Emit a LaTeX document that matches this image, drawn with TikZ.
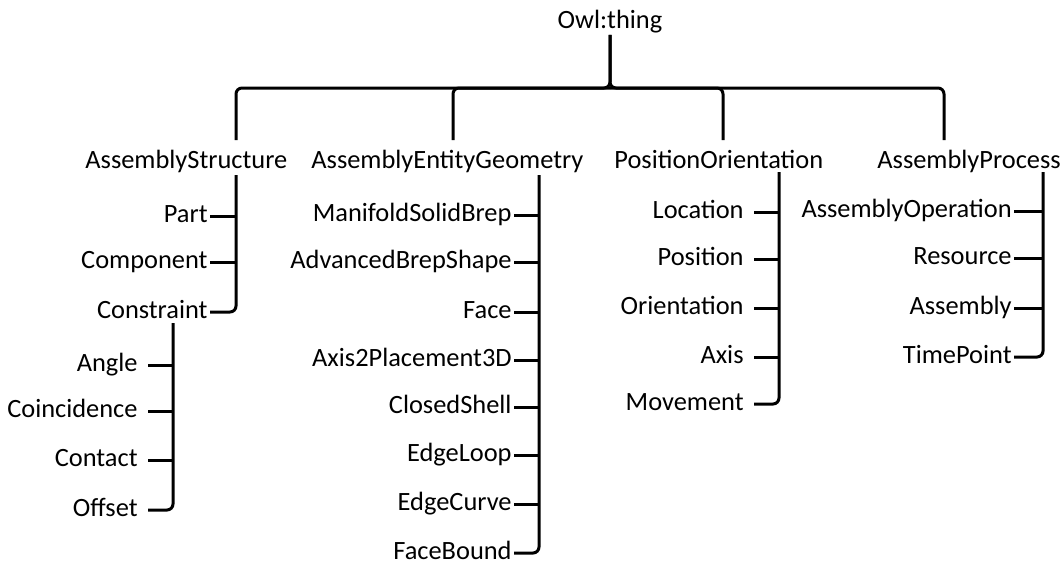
\documentclass[tikz,border=0pt]{standalone}
\usepackage{fontspec}
\setmainfont{Carlito}
\usepackage{tikz}
\newcommand{\clsfont}{\fontsize{13.2}{15}\selectfont}
\tikzset{
  classnode/.style = {inner sep=0pt, font=\clsfont, text height=9.2pt, text depth=3.2pt},
  topcls/.style = {classnode},% classe du haut
  subcls/.style = {classnode, anchor=east, inner xsep=1pt},% sous-classe, trait colle
  subgap/.style = {classnode, anchor=east, inner xsep=5pt},% sous-classe, trait decale
  isa/.style = {line width=1.5pt, rounded corners=3pt}
}
\begin{document}
\begin{tikzpicture}[x=0.5pt,y=-0.5pt]
  \useasboundingbox (0,0) rectangle (1063,570);
  % root and first level
  \node [topcls] (owl) at (610,22) {Owl:thing};
  \node [topcls, anchor=west] (struct) at (85,162) {AssemblyStructure};
  \node [topcls, anchor=west] (geom) at (311,162) {AssemblyEntityGeometry};
  \node [topcls, anchor=west] (posor) at (614,162) {PositionOrientation};
  \node [topcls, anchor=west] (proc) at (877,162) {AssemblyProcess};
  \coordinate (hub) at (610,88);
  \coordinate (struct-d) at (236,140);
  \coordinate (geom-d) at (453,140);
  \coordinate (posor-d) at (723,140);
  \coordinate (proc-d) at (944,140);
  \draw [isa] (owl.south) -- (hub) -| (struct-d);
  \draw [isa] (owl.south) -- (hub) -| (proc-d);
  \draw [isa] (hub) -| (geom-d);
  \draw [isa] (hub) -| (posor-d);
  % AssemblyStructure
  \node [subcls] (part) at (210,216) {Part};
  \node [subcls] (component) at (210,262) {Component};
  \node [subcls] (constraint) at (210,312) {Constraint};
  \coordinate (struct-c) at (236,175);
  \draw [isa] (struct-c) |- (constraint.east);
  \draw [isa] (part.east) -- (part.east -| struct-c);
  \draw [isa] (component.east) -- (component.east -| struct-c);
  % Constraint
  \node [subgap] (angle) at (148,365) {Angle};
  \node [subgap] (coinc) at (148,411) {Coincidence};
  \node [subgap] (contact) at (148,460) {Contact};
  \node [subgap] (offset) at (148,510) {Offset};
  \coordinate (constr-c) at (173,323);
  \draw [isa] (constr-c) |- (offset.east);
  \draw [isa] (angle.east) -- (angle.east -| constr-c);
  \draw [isa] (coinc.east) -- (coinc.east -| constr-c);
  \draw [isa] (contact.east) -- (contact.east -| constr-c);
  % AssemblyEntityGeometry
  \node [subcls] (manifold) at (514,215) {ManifoldSolidBrep};
  \node [subcls] (advbrep) at (514,262) {AdvancedBrepShape};
  \node [subcls] (face) at (514,312) {Face};
  \node [subcls] (axisplace) at (514,360) {Axis2Placement3D};
  \node [subcls] (closed) at (514,407) {ClosedShell};
  \node [subcls] (edgeloop) at (514,455) {EdgeLoop};
  \node [subcls] (edgecurve) at (514,504) {EdgeCurve};
  \node [subcls] (facebound) at (514,553) {FaceBound};
  \coordinate (geom-c) at (539,175);
  \draw [isa] (geom-c) |- (facebound.east);
  \draw [isa] (manifold.east) -- (manifold.east -| geom-c);
  \draw [isa] (advbrep.east) -- (advbrep.east -| geom-c);
  \draw [isa] (face.east) -- (face.east -| geom-c);
  \draw [isa] (axisplace.east) -- (axisplace.east -| geom-c);
  \draw [isa] (closed.east) -- (closed.east -| geom-c);
  \draw [isa] (edgeloop.east) -- (edgeloop.east -| geom-c);
  \draw [isa] (edgecurve.east) -- (edgecurve.east -| geom-c);
  % PositionOrientation
  \node [subgap] (location) at (754,212) {Location};
  \node [subgap] (position) at (754,259) {Position};
  \node [subgap] (orient) at (754,308) {Orientation};
  \node [subgap] (axis) at (754,357) {Axis};
  \node [subgap] (movement) at (754,404) {Movement};
  \coordinate (posor-c) at (779,172);
  \draw [isa] (posor-c) |- (movement.east);
  \draw [isa] (location.east) -- (location.east -| posor-c);
  \draw [isa] (position.east) -- (position.east -| posor-c);
  \draw [isa] (orient.east) -- (orient.east -| posor-c);
  \draw [isa] (axis.east) -- (axis.east -| posor-c);
  % AssemblyProcess
  \node [subcls] (asmop) at (1014,211) {AssemblyOperation};
  \node [subcls] (resource) at (1014,258) {Resource};
  \node [subcls] (assembly) at (1014,308) {Assembly};
  \node [subcls] (timepoint) at (1014,357) {TimePoint};
  \coordinate (proc-c) at (1043,172);
  \draw [isa] (proc-c) |- (timepoint.east);
  \draw [isa] (asmop.east) -- (asmop.east -| proc-c);
  \draw [isa] (resource.east) -- (resource.east -| proc-c);
  \draw [isa] (assembly.east) -- (assembly.east -| proc-c);
\end{tikzpicture}
\end{document}
